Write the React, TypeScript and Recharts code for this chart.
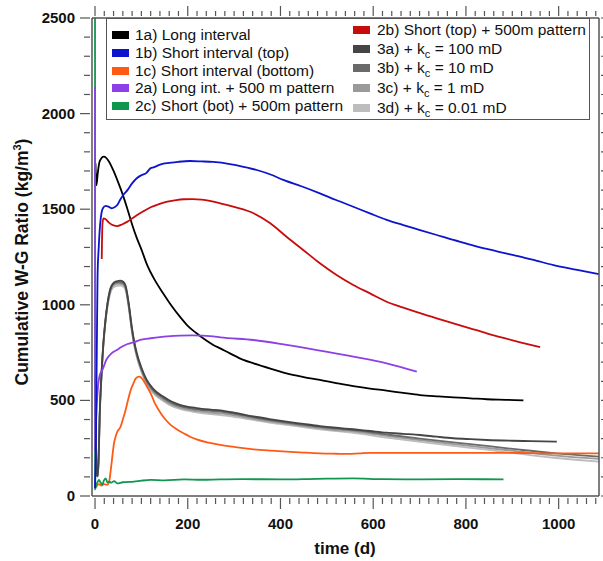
import { Line, LineChart, XAxis, YAxis } from 'recharts'

type Pt = [number, number]

// time (d), cumulative W-G ratio (kg/m3)
const s1a: Pt[] = [
  [1, 1740], [3, 1625], [6, 1690], [10, 1750], [19, 1775], [30, 1750], [40, 1700], [50, 1640],
  [60, 1575], [70, 1500], [80, 1420], [90, 1350], [100, 1290], [111, 1217], [130, 1125],
  [147, 1060], [165, 995], [183, 938], [200, 890], [219, 851], [237, 818], [255, 790],
  [270, 772], [291, 746], [320, 712], [342, 694], [380, 665], [413, 641], [450, 622],
  [485, 607], [520, 590], [557, 575], [593, 562], [629, 551], [665, 539], [701, 528],
  [740, 521], [773, 516], [810, 511], [845, 506], [885, 503], [924, 500],
]
const s1b: Pt[] = [
  [0, 40], [2, 300], [4, 800], [5.5, 1150], [8, 1300], [11, 1420], [14, 1480], [17, 1505],
  [23, 1517], [30, 1512], [36, 1505], [42, 1510], [48, 1522], [54, 1548], [62, 1578],
  [70, 1600], [80, 1635], [90, 1662], [100, 1678], [111, 1690], [120, 1715], [126, 1719],
  [142, 1735], [160, 1742], [180, 1748], [205, 1752], [230, 1750], [255, 1747], [291, 1736],
  [320, 1722], [349, 1705], [380, 1680], [406, 1653], [445, 1620], [485, 1583], [520, 1548],
  [557, 1513], [593, 1478], [629, 1444], [665, 1417], [701, 1391], [737, 1365], [773, 1339],
  [809, 1315], [845, 1292], [881, 1272], [917, 1252], [953, 1230], [989, 1208], [1040, 1183],
  [1087, 1160],
]
const s1c: Pt[] = [
  [2, 45], [8, 62], [14, 55], [20, 62], [26, 58], [30, 70], [34, 136], [38, 220], [41, 276],
  [45, 315], [48, 336], [55, 362], [60, 400], [66, 450], [72, 510], [77, 554], [83, 590],
  [88, 615], [95, 624], [100, 618], [106, 598], [113, 568], [120, 537], [130, 480], [142, 432],
  [152, 400], [163, 372], [177, 348], [192, 327], [205, 310], [219, 296], [245, 279],
  [270, 267], [291, 259], [320, 250], [342, 244], [380, 237], [413, 232], [450, 227],
  [485, 223], [520, 221], [543, 220], [570, 223], [593, 226], [650, 226], [701, 226],
  [773, 226], [845, 226], [917, 225], [989, 223], [1087, 223],
]
const s2a: Pt[] = [
  [0, 2140], [0.4, 240], [2, 380], [3.6, 467], [6, 560], [10, 630], [16, 660], [25, 715],
  [35, 745], [48, 765], [54, 775], [70, 795], [84, 805], [100, 818], [120, 825], [156, 835],
  [183, 839], [210, 840], [255, 835], [270, 830], [342, 816], [413, 790], [485, 760],
  [557, 729], [629, 694], [694, 650],
]
const s2c: Pt[] = [
  [0, 2500], [0.5, 35], [3, 60], [6, 75], [8.6, 84], [12, 70], [15.8, 60], [19, 80], [23, 92],
  [27, 70], [30, 75], [35, 70], [41, 78], [48, 66], [60, 72], [84, 75], [100, 80], [120, 84],
  [150, 82], [192, 87], [230, 85], [270, 87], [320, 88], [400, 87], [480, 90], [557, 92],
  [620, 88], [701, 87], [780, 88], [881, 87],
]
const s2b: Pt[] = [
  [14.5, 1240], [16, 1420], [18, 1452], [23, 1447], [30, 1430], [40, 1415], [48, 1412],
  [58, 1420], [70, 1435], [80, 1452], [91, 1470], [105, 1490], [120, 1510], [138, 1526],
  [156, 1539], [175, 1548], [192, 1552], [210, 1553], [230, 1550], [250, 1542], [270, 1531],
  [300, 1512], [342, 1479], [378, 1426], [413, 1356], [449, 1287], [485, 1217], [521, 1156],
  [557, 1104], [593, 1060], [629, 1016], [665, 985], [701, 956], [737, 929], [773, 903],
  [809, 877], [845, 851], [881, 827], [917, 804], [960, 778],
]
const s3a: Pt[] = [
  [1, 650], [2.5, 200], [4, 110], [6, 105], [8, 220], [10, 420], [14, 640], [18, 800],
  [22, 910], [27, 1010], [32, 1075], [40, 1115], [47, 1123], [54, 1126], [61, 1120],
  [66, 1100], [70, 1050], [74, 985], [79, 890], [84, 815], [90, 748], [100, 672], [111, 610],
  [125, 562], [147, 520], [165, 494], [183, 477], [219, 460], [250, 452], [270, 448],
  [300, 436], [342, 416], [380, 401], [413, 389], [450, 377], [485, 366], [520, 357],
  [557, 349], [593, 340], [629, 331], [665, 325], [701, 319], [737, 310], [773, 302],
  [810, 297], [845, 293], [900, 289], [940, 287], [996, 284],
]
const s3b: Pt[] = [
  [1, 640], [2.5, 195], [4, 108], [6, 104], [8, 215], [10, 415], [14, 635], [18, 795],
  [22, 905], [27, 1005], [32, 1070], [40, 1110], [47, 1117], [54, 1118], [61, 1113],
  [66, 1093], [70, 1043], [74, 978], [79, 883], [84, 808], [90, 742], [100, 665], [111, 603],
  [125, 555], [147, 513], [165, 487], [183, 470], [219, 453], [250, 445], [270, 441],
  [300, 430], [342, 411], [380, 396], [413, 384], [450, 372], [485, 361], [520, 352],
  [557, 345], [629, 322], [701, 300], [773, 280], [845, 262], [917, 242], [989, 224],
  [1087, 206],
]
const s3c: Pt[] = [
  [1, 630], [2.5, 190], [4, 106], [6, 103], [8, 210], [10, 410], [14, 630], [18, 790],
  [22, 900], [27, 998], [32, 1062], [40, 1102], [47, 1109], [54, 1110], [61, 1105],
  [66, 1085], [70, 1035], [74, 970], [79, 876], [84, 800], [90, 735], [100, 657], [111, 595],
  [125, 546], [147, 504], [165, 478], [183, 462], [219, 445], [250, 436], [270, 432],
  [300, 422], [342, 404], [380, 389], [413, 378], [450, 366], [485, 355], [520, 345],
  [557, 338], [629, 314], [701, 292], [773, 271], [845, 252], [917, 232], [989, 213],
  [1087, 194],
]
const s3d: Pt[] = [
  [1, 620], [2.5, 185], [4, 104], [6, 102], [8, 205], [10, 405], [14, 625], [18, 785],
  [22, 893], [27, 990], [32, 1052], [40, 1092], [47, 1099], [54, 1100], [61, 1095],
  [66, 1076], [70, 1028], [74, 963], [79, 870], [84, 795], [90, 728], [100, 650], [111, 588],
  [125, 539], [147, 497], [165, 471], [183, 455], [219, 438], [250, 428], [270, 423],
  [300, 414], [342, 398], [380, 383], [413, 372], [450, 360], [485, 349], [520, 339],
  [557, 330], [629, 305], [701, 283], [773, 262], [845, 242], [917, 220], [989, 200],
  [1087, 180],
]

const xMajor = [0, 200, 400, 600, 800, 1000]
const yMajor = [0, 500, 1000, 1500, 2000, 2500]
const xTicks = Array.from({ length: 55 }, (_, i) => i * 20)
const yTicks = Array.from({ length: 26 }, (_, i) => i * 100)

const AXIS = '#555'
const FONT = '"Liberation Sans", Arial, sans-serif'

// draw order: first entries sit underneath
const series = [
  { id: '3d', pts: s3d, color: '#bdbdbd' },
  { id: '3c', pts: s3c, color: '#9a9a9a' },
  { id: '3b', pts: s3b, color: '#6a6a6a' },
  { id: '3a', pts: s3a, color: '#454545' },
  { id: '1c', pts: s1c, color: '#ff5a14' },
  { id: '1a', pts: s1a, color: '#000000' },
  { id: '2c', pts: s2c, color: '#119650' },
  { id: '2a', pts: s2a, color: '#8c40e6' },
  { id: '2b', pts: s2b, color: '#c80c0c' },
  { id: '1b', pts: s1b, color: '#0d14cc' },
]

const legendLeft = [
  { label: '1a) Long interval', color: '#000000', y: 16 },
  { label: '1b) Short interval (top)', color: '#0d14cc', y: 34 },
  { label: '1c) Short interval (bottom)', color: '#ff5a14', y: 51.5 },
  { label: '2a) Long int. + 500 m pattern', color: '#8c40e6', y: 69 },
  { label: '2c) Short (bot) + 500m pattern', color: '#119650', y: 87 },
]
const legendRight = [
  { pre: '2b) Short (top) + 500m pattern', kc: '', color: '#c80c0c', y: 10.5 },
  { pre: '3a) + k', kc: ' = 100 mD', color: '#454545', y: 29.5 },
  { pre: '3b) + k', kc: ' = 10 mD', color: '#6a6a6a', y: 49 },
  { pre: '3c) + k', kc: ' = 1 mD', color: '#9a9a9a', y: 69 },
  { pre: '3d) + k', kc: ' = 0.01 mD', color: '#bdbdbd', y: 88.5 },
]

const tickText = { fontFamily: FONT, fontSize: 15, fontWeight: 700, fill: '#111' }

function BottomTick({ x, y, payload }: any) {
  const major = payload.value % 200 === 0
  return (
    <g>
      <line x1={x} x2={x} y1={y} y2={y + (major ? 11 : 6)} stroke={AXIS} strokeWidth={1.2} />
      {major && xMajor.includes(payload.value) && (
        <text x={x} y={y + 31} textAnchor="middle" {...tickText}>
          {payload.value}
        </text>
      )}
    </g>
  )
}

function TopTick({ x, y, payload }: any) {
  const major = payload.value % 200 === 0
  return <line x1={x} x2={x} y1={y} y2={y - (major ? 10 : 5)} stroke={AXIS} strokeWidth={1.2} />
}

function LeftTick({ x, y, payload }: any) {
  const major = payload.value % 500 === 0
  return (
    <g>
      <line x1={x} x2={x - (major ? 10 : 6)} y1={y} y2={y} stroke={AXIS} strokeWidth={1.2} />
      {major && yMajor.includes(payload.value) && (
        <text x={x - 15} y={y + 5} textAnchor="end" {...tickText}>
          {payload.value}
        </text>
      )}
    </g>
  )
}

function RightTick({ x, y }: any) {
  return <line x1={x} x2={x + 4} y1={y} y2={y} stroke={AXIS} strokeWidth={1.2} />
}

function XTitle() {
  return (
    <text x={345} y={554} textAnchor="middle" fontFamily={FONT} fontSize={17} fontWeight={700} fill="#111">
      time (d)
    </text>
  )
}

function YTitle() {
  return (
    <text
      x={28}
      y={262}
      transform="rotate(-90 28 262)"
      textAnchor="middle"
      fontFamily={FONT}
      fontSize={17.5}
      fontWeight={700}
      fill="#111"
    >
      Cumulative W-G Ratio (kg/m
      <tspan dy={-7} fontSize={11}>3</tspan>
      <tspan dy={7}>)</tspan>
    </text>
  )
}

function Swatch({ color, left, top }: { color: string; left: number; top: number }) {
  return (
    <div style={{ position: 'absolute', left, top: top - 4, width: 17, height: 8, background: color }} />
  )
}

function LegendBox() {
  const row = { position: 'absolute' as const, fontSize: 15.5, lineHeight: '18px', whiteSpace: 'nowrap' as const, color: '#111' }
  return (
    <div
      style={{
        position: 'absolute',
        left: 106,
        top: 18,
        width: 484,
        height: 102,
        boxSizing: 'border-box',
        border: `1.3px solid ${AXIS}`,
        background: '#fff',
        fontFamily: FONT,
      }}
    >
      {legendLeft.map((d) => (
        <div key={d.label}>
          <Swatch color={d.color} left={5} top={d.y} />
          <div style={{ ...row, left: 28, top: d.y - 9 }}>{d.label}</div>
        </div>
      ))}
      {legendRight.map((d) => (
        <div key={d.pre + d.kc}>
          <Swatch color={d.color} left={246} top={d.y} />
          <div style={{ ...row, left: 270, top: d.y - 9 }}>
            {d.pre}
            {d.kc && (
              <>
                <span style={{ fontSize: 11, position: 'relative', top: 4 }}>c</span>
                {d.kc}
              </>
            )}
          </div>
        </div>
      ))}
    </div>
  )
}

export default function App() {
  return (
    <div style={{ position: 'absolute', left: 0, top: 0, width: 603, height: 561, background: '#fff' }}>
      <LineChart width={603} height={561} margin={{ top: 0, right: 0, bottom: 0, left: 0 }}>
        <XAxis
          dataKey="t"
          type="number"
          domain={[-6.5, 1087]}
          allowDataOverflow
          ticks={xTicks}
          interval={0}
          tickSize={0}
          tickLine={false}
          tick={<BottomTick />}
          height={65}
          axisLine={{ stroke: AXIS, strokeWidth: 1.5 }}
          label={<XTitle />}
        />
        <XAxis
          xAxisId="top"
          orientation="top"
          dataKey="t"
          type="number"
          domain={[-6.5, 1087]}
          allowDataOverflow
          ticks={xTicks}
          interval={0}
          tickSize={0}
          tickLine={false}
          tick={<TopTick />}
          height={18}
          axisLine={{ stroke: AXIS, strokeWidth: 1.5 }}
        />
        <YAxis
          type="number"
          domain={[0, 2500]}
          allowDataOverflow
          ticks={yTicks}
          interval={0}
          tickSize={0}
          tickLine={false}
          tick={<LeftTick />}
          width={92}
          axisLine={{ stroke: AXIS, strokeWidth: 1.5 }}
          label={<YTitle />}
        />
        <YAxis
          yAxisId="right"
          orientation="right"
          type="number"
          domain={[0, 2500]}
          allowDataOverflow
          ticks={yTicks}
          interval={0}
          tickSize={0}
          tickLine={false}
          tick={<RightTick />}
          width={4}
          axisLine={{ stroke: AXIS, strokeWidth: 1.5 }}
        />
        {series.map((s) => (
          <Line
            key={s.id}
            data={s.pts.map(([t, v]) => ({ t, v }))}
            dataKey="v"
            type="monotone"
            stroke={s.color}
            strokeWidth={1.8}
            dot={false}
            activeDot={false}
            isAnimationActive={false}
          />
        ))}
      </LineChart>
      <LegendBox />
    </div>
  )
}
